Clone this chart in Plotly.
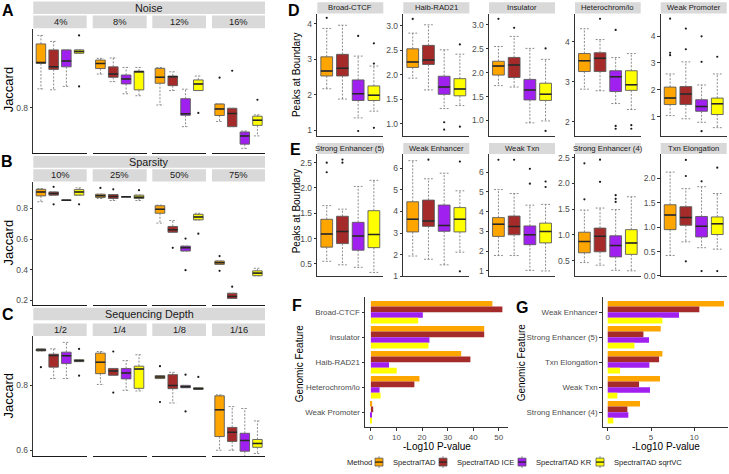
import plotly.graph_objects as go

W, H = 729, 474
FONT = "Liberation Sans, Arial, sans-serif"

METHODS = ["SpectralTAD", "SpectralTAD ICE", "SpectralTAD KR", "SpectralTAD sqrtVC"]
COLORS = ["#FFA500", "#A52A2A", "#A020F0", "#FFFF00"]

# ---- Panel A: Noise. per level, per method: [lower whisker, q1, median, q3, upper whisker]
noise_levels = ["4%", "8%", "12%", "16%"]
noise_box = [
    [[0.822, 0.852, 0.853, 0.875, 0.885], [0.821, 0.845, 0.848, 0.868, 0.878],
     [0.825, 0.848, 0.855, 0.868, 0.868], [0.864, 0.864, 0.866, 0.868, 0.868]],
    [[0.8395, 0.846, 0.852, 0.856, 0.858], [0.8306, 0.8357, 0.8395, 0.848, 0.8585],
     [0.8163, 0.8279, 0.8337, 0.8384, 0.8473], [0.814, 0.8209, 0.8422, 0.843, 0.8473]],
    [[0.8031, 0.8287, 0.8357, 0.8462, 0.8473], [0.8201, 0.8259, 0.8364, 0.8372, 0.8422],
     [0.7776, 0.791, 0.7927, 0.8105, 0.8217], [0.8201, 0.8201, 0.8279, 0.8326, 0.8372]],
    [[0.7837, 0.7907, 0.7985, 0.8043, 0.8043], [0.7776, 0.7776, 0.793, 0.7992, 0.7992],
     [0.752, 0.757, 0.7667, 0.7713, 0.7725], [0.7667, 0.7791, 0.7852, 0.7899, 0.7915]],
]
noise_out = [
    [[], [], [], [0.885, 0.825]],
    [[], [], [], []],
    [[], [], [], [0.7938]],
    [[0.8353], [0.8434], [], [0.8093]],
]

# ---- Panel B: Sparsity
sparsity_levels = ["10%", "25%", "50%", "75%"]
sparsity_box = [
    [[0.843, 0.881, 0.907, 0.924, 0.929], [0.886, 0.886, 0.896, 0.907, 0.907],
     [0.853, 0.853, 0.853, 0.853, 0.853], [0.886, 0.886, 0.907, 0.922, 0.933]],
    [[0.864, 0.871, 0.882, 0.892, 0.892], [0.851, 0.864, 0.877, 0.890, 0.890],
     [0.875, 0.875, 0.875, 0.875, 0.875], [0.851, 0.864, 0.873, 0.886, 0.886]],
    [[0.704, 0.768, 0.794, 0.817, 0.821], [0.644, 0.644, 0.661, 0.682, 0.721],
     [0.522, 0.522, 0.543, 0.554, 0.554], [0.725, 0.725, 0.744, 0.761, 0.768]],
    [[0.435, 0.435, 0.446, 0.457, 0.457], [0.213, 0.213, 0.226, 0.247, 0.247],
     None, [0.361, 0.361, 0.378, 0.393, 0.41]],
]
sparsity_out = [
    [[], [0.94, 0.826], [], [0.826]],
    [[0.933], [0.924], [], [0.918]],
    [[], [0.543], [0.603, 0.397], [0.635]],
    [[0.489, 0.393], [0.29], [], []],
]

# ---- Panel C: Sequencing depth
depth_levels = ["1/2", "1/4", "1/8", "1/16"]
depth_box = [
    [[0.905, 0.905, 0.908, 0.911, 0.911], [0.820, 0.855, 0.891, 0.895, 0.911],
     [0.820, 0.866, 0.890, 0.901, 0.931], [0.872, 0.872, 0.875, 0.878, 0.878]],
    [[0.802, 0.835, 0.870, 0.898, 0.903], [0.830, 0.830, 0.843, 0.851, 0.851],
     [0.784, 0.819, 0.837, 0.851, 0.875], [0.782, 0.790, 0.849, 0.858, 0.893]],
    [[0.820, 0.820, 0.825, 0.829, 0.829], [0.745, 0.789, 0.799, 0.832, 0.839],
     [0.792, 0.792, 0.795, 0.799, 0.799], [0.787, 0.787, 0.789, 0.792, 0.792]],
    [[0.600, 0.642, 0.724, 0.767, 0.770], [0.600, 0.627, 0.655, 0.670, 0.734],
     [0.580, 0.597, 0.630, 0.652, 0.728], [0.590, 0.609, 0.621, 0.633, 0.690]],
]
depth_out = [
    [[0.855], [], [], [0.911, 0.829]],
    [[], [0.903, 0.777], [], []],
    [[0.858, 0.748], [], [0.832, 0.719], [0.825]],
    [[], [], [], []],
]

# ---- Panel D: peaks at boundary
d_features = ["Broad-CTCF", "Haib-RAD21", "Insulator", "Heterochrom/lo", "Weak Promoter"]
d_box = [
    [[2.17, 2.53, 2.67, 3.07, 3.87], [1.88, 2.53, 2.75, 3.14, 3.96],
     [1.35, 1.84, 2.03, 2.42, 3.09], [1.54, 1.84, 1.99, 2.25, 2.81]],
    [[1.93, 2.15, 2.26, 2.53, 2.85], [1.69, 2.21, 2.30, 2.60, 3.02],
     [1.31, 1.60, 1.75, 1.97, 2.51], [1.37, 1.57, 1.71, 1.92, 2.42]],
    [[1.73, 1.95, 2.14, 2.24, 2.55], [1.70, 1.90, 2.16, 2.32, 2.76],
     [0.95, 1.43, 1.64, 1.86, 2.51], [0.99, 1.42, 1.55, 1.78, 2.28]],
    [[2.81, 3.25, 3.52, 3.70, 4.32], [2.77, 3.25, 3.58, 3.72, 4.05],
     [2.45, 2.75, 3.12, 3.27, 3.60], [2.30, 2.78, 2.92, 3.27, 3.70]],
    [[1.04, 1.45, 1.69, 2.10, 2.59], [0.92, 1.45, 1.84, 2.12, 3.04],
     [0.79, 1.20, 1.38, 1.63, 2.18], [0.59, 1.08, 1.48, 1.69, 2.59]],
]
d_out = [
    [[4.17], [], [3.66, 0.98], [3.45, 2.88, 1.07]],
    [[3.14], [], [1.03, 0.88], [2.62, 0.94]],
    [[3.13], [2.94], [], [2.51, 0.78]],
    [[], [4.57], [4.29, 1.89, 1.82], [1.91, 1.82]],
    [[4.65, 3.38, 3.29], [4.28, 3.51], [3.99, 3.04, 0.46], [3.23]],
]
d_yrange = [[0.84, 4.29], [0.75, 3.25], [0.675, 3.24], [1.64, 4.70], [0.28, 4.84]]
d_ticks = [[1, 2, 3, 4], [1.0, 1.5, 2.0, 2.5, 3.0], [1.0, 1.5, 2.0, 2.5, 3.0], [2, 3, 4], [1, 2, 3, 4]]
d_tickfmt = ["d", ".1f", ".1f", "d", "d"]

# ---- Panel E
e_features = ["Strong Enhancer (5)", "Weak Enhancer", "Weak Txn", "Strong Enhancer (4)", "Txn Elongation"]
e_box = [
    [[0.55, 0.83, 1.09, 1.38, 1.65], [0.48, 0.90, 1.14, 1.44, 1.58],
     [0.43, 0.77, 1.05, 1.32, 2.03], [0.33, 0.82, 1.08, 1.55, 2.15]],
    [[1.93, 3.05, 3.64, 4.45, 6.36], [1.78, 3.31, 3.56, 4.53, 5.52],
     [1.52, 3.08, 3.35, 4.30, 5.78], [2.11, 3.05, 3.64, 4.18, 4.96]],
    [[1.78, 2.75, 3.37, 3.70, 5.12], [1.78, 2.83, 3.25, 3.78, 4.92],
     [1.03, 2.33, 2.83, 3.28, 4.33], [1.00, 2.42, 3.00, 3.42, 4.37]],
    [[0.46, 0.65, 0.87, 1.05, 1.48], [0.41, 0.67, 0.97, 1.13, 1.52],
     [0.31, 0.57, 0.79, 0.98, 1.49], [0.30, 0.62, 0.84, 1.10, 1.74]],
    [[0.42, 0.95, 1.25, 1.46, 2.13], [0.70, 1.04, 1.20, 1.42, 1.79],
     [0.58, 0.80, 1.02, 1.22, 1.83], [0.55, 0.85, 1.07, 1.21, 1.69]],
]
e_out = [
    [[2.50, 2.31], [2.56, 2.50], [], []],
    [[], [6.41], [], [6.32, 1.22]],
    [[6.63], [6.63], [6.17, 5.42], [5.53, 5.25]],
    [[2.39, 1.69], [2.46, 2.03], [1.77, 1.70, 1.64], []],
    [[], [2.38, 2.05, 0.30], [1.94, 0.10], [2.22, 0.10]],
]
e_yrange = [[0.25, 2.67], [0.98, 6.67], [0.72, 6.92], [0.19, 2.57], [-0.01, 2.50]]
e_ticks = [[0.5, 1.0, 1.5, 2.0, 2.5], [1, 2, 3, 4, 5, 6], [1, 2, 3, 4, 5, 6],
           [0.5, 1.0, 1.5, 2.0, 2.5], [0.0, 0.5, 1.0, 1.5, 2.0]]
e_tickfmt = [".1f", "d", "d", ".1f", ".1f"]

# ---- Panels F and G: -log10 p-values
f_features = ["Broad-CTCF", "Insulator", "Haib-RAD21", "Heterochrom/lo", "Weak Promoter"]
f_values = [
    [47.5, 44.3, 35.3, 19.0, 0.5],
    [51.4, 44.3, 38.9, 17.0, 0.9],
    [20.3, 22.9, 7.1, 3.4, 0.1],
    [18.5, 22.5, 10.1, 3.8, 0.3],
]
g_features = ["Weak Enhancer", "Strong Enhancer (5)", "Txn Elongation", "Weak Txn", "Strong Enhancer (4)"]
g_values = [
    [13.43, 6.12, 6.31, 6.04, 3.73],
    [10.58, 4.12, 5.93, 3.62, 2.27],
    [8.23, 4.77, 4.81, 4.88, 2.38],
    [6.31, 3.08, 1.42, 1.11, 0.65],
]

# ================= figure construction =================
fig = go.Figure()
annotations = []
shapes = []
axcount = [0]

TICKCOL = "#4D4D4D"
AXCOL = "#333333"


def fx(p):
    return p / W


def fy(p):
    return 1 - p / H


def new_axes(xpx, ypx, xrange, yrange, left=True, bottom=True, yticks=None, ytickfmt=None,
             xticks=None, ycat=None, xline_w=1.0, xline_col=AXCOL):
    axcount[0] += 1
    i = axcount[0]
    s = "" if i == 1 else str(i)
    xa = dict(domain=[fx(xpx[0]), fx(xpx[1])], range=xrange, anchor="y" + s,
              showgrid=False, zeroline=False, fixedrange=True,
              showline=bottom, linecolor=xline_col, linewidth=xline_w)
    if xticks is not None:
        xa.update(tickmode="array", tickvals=xticks, showticklabels=True, ticks="outside",
                  ticklen=2.5, tickcolor=AXCOL, tickfont=dict(size=8, color=TICKCOL, family=FONT))
    else:
        xa.update(showticklabels=False, ticks="")
    ya = dict(domain=[fy(ypx[1]), fy(ypx[0])], range=yrange, anchor="x" + s,
              showgrid=False, zeroline=False, fixedrange=True,
              showline=left, linecolor=AXCOL, linewidth=1)
    if ycat is not None:
        ya.update(type="category", categoryorder="array", categoryarray=ycat,
                  ticks="outside", ticklen=2.5, tickcolor=AXCOL,
                  tickfont=dict(size=7.9, color=TICKCOL, family=FONT))
    elif yticks is not None and left:
        ya.update(tickmode="array", tickvals=yticks, ticks="outside", ticklen=2.5, tickcolor=AXCOL,
                  tickformat=ytickfmt, tickfont=dict(size=8.5, color=TICKCOL, family=FONT))
    else:
        ya.update(showticklabels=False, ticks="")
    fig.update_layout(**{"xaxis" + s: xa, "yaxis" + s: ya})
    return "x" + s, "y" + s


CAP = 0.28
BW = 0.75


def draw_boxes(xr, yr, stats, outs):
    wx, wy = [], []
    for m, st in enumerate(stats):
        if st is None:
            continue
        lo, q1, med, q3, hi = st
        x = m + 1
        wx += [x, x, None, x, x, None, x - CAP, x + CAP, None, x - CAP, x + CAP, None]
        wy += [q3, hi, None, q1, lo, None, hi, hi, None, lo, lo, None]
    fig.add_trace(go.Scatter(x=wx, y=wy, mode="lines", xaxis=xr, yaxis=yr,
                             line=dict(color="#6E6E6E", width=0.8, dash="2px,1.5px"),
                             showlegend=False, hoverinfo="skip"))
    mx, my = [], []
    for m, st in enumerate(stats):
        if st is None:
            continue
        lo, q1, med, q3, hi = st
        fig.add_trace(go.Box(x=[m + 1], q1=[q1], median=[med], q3=[q3],
                             lowerfence=[q1], upperfence=[q3], width=BW, whiskerwidth=0,
                             fillcolor=COLORS[m], line=dict(color="#5A5A5A", width=0.9),
                             boxpoints=False, name=METHODS[m], legendgroup=METHODS[m],
                             showlegend=False, xaxis=xr, yaxis=yr, hoverinfo="skip"))
        mx += [m + 1 - BW / 2, m + 1 + BW / 2, None]
        my += [med, med, None]
    fig.add_trace(go.Scatter(x=mx, y=my, mode="lines", xaxis=xr, yaxis=yr,
                             line=dict(color="#262626", width=1.5),
                             showlegend=False, hoverinfo="skip"))
    ox, oy = [], []
    for m, lst in enumerate(outs):
        for v in lst:
            ox.append(m + 1)
            oy.append(v)
    if ox:
        fig.add_trace(go.Scatter(x=ox, y=oy, mode="markers", xaxis=xr, yaxis=yr,
                                 marker=dict(color="#1A1A1A", size=2.2),
                                 showlegend=False, hoverinfo="skip"))


def strip(x0, x1, y0, y1, text, size):
    shapes.append(dict(type="rect", xref="paper", yref="paper", x0=fx(x0), x1=fx(x1),
                       y0=fy(y1), y1=fy(y0), fillcolor="#D9D9D9", line=dict(width=0),
                       layer="below"))
    annotations.append(dict(text=text, xref="paper", yref="paper", x=fx((x0 + x1) / 2),
                            y=fy((y0 + y1) / 2), xanchor="center", yanchor="middle",
                            showarrow=False, font=dict(size=size, color="#1A1A1A", family=FONT)))


def label(text, x, y, size=16, bold=True, angle=0, color="black", anchor="center"):
    annotations.append(dict(text=("<b>%s</b>" % text) if bold else text, xref="paper",
                            yref="paper", x=fx(x), y=fy(y), xanchor=anchor,
                            yanchor="middle", showarrow=False, textangle=angle,
                            font=dict(size=size, color=color, family=FONT)))


# ---- A, B, C
facet_x = [[33.3, 86.7], [92.7, 146.7], [152.3, 206], [212, 265]]
abc = [
    ("Noise", noise_levels, noise_box, noise_out, [28, 154], [0.7465, 0.893], [0.8],
     [0.5, 13.2], [14.7, 27.6], "A", 7.5, 10, 90),
    ("Sparsity", sparsity_levels, sparsity_box, sparsity_out, [183, 308], [0.1698, 0.9736],
     [0.2, 0.4, 0.6, 0.8], [157, 169], [170.3, 182.8], "B", 7, 163, 245),
    ("Sequencing Depth", depth_levels, depth_box, depth_out, [339.3, 461], [0.5818, 0.9506],
     [0.6, 0.8], [310.7, 323.3], [326.7, 339.3], "C", 7.5, 317.5, 400),
]
for title, levels, boxes, outs, ypx, yrng, ticks, s1, s2, plabel, lx, ly, jy in abc:
    for k in range(4):
        xr, yr = new_axes(facet_x[k], ypx, [0.4, 4.6], yrng, left=(k == 0), bottom=True,
                          yticks=ticks, ytickfmt=".1f", xline_w=1.4, xline_col="#1A1A1A")
        draw_boxes(xr, yr, boxes[k], outs[k])
        strip(facet_x[k][0], facet_x[k][1], s2[0], s2[1], levels[k], 9.3)
    strip(facet_x[0][0], facet_x[3][1], s1[0], s1[1], title, 10.8)
    label(plabel, lx, ly)
    label("Jaccard", 8.5, jy, size=13, bold=False, angle=-90)

# ---- D, E
de_x = [[317.3, 383.3], [403.3, 469.3], [489, 555], [575, 640.7], [660.7, 726.7]]
for feats, boxes, outs, yrngs, ticks, fmts, ypx, spx in [
        (d_features, d_box, d_out, d_yrange, d_ticks, d_tickfmt, [12.7, 136.7], [1.3, 12.7]),
        (e_features, e_box, e_out, e_yrange, e_ticks, e_tickfmt, [155, 279], [143.8, 155])]:
    for k in range(5):
        xr, yr = new_axes(de_x[k], ypx, [0.4, 4.6], yrngs[k], left=True, bottom=True,
                          yticks=ticks[k], ytickfmt=fmts[k])
        draw_boxes(xr, yr, boxes[k], outs[k])
        strip(de_x[k][0], de_x[k][1], spx[0], spx[1], feats[k], 7.7)
label("D", 294, 10)
label("E", 295, 150)
label("Peaks at Boundary", 296, 75, size=10, bold=False, angle=-90)
label("Peaks at Boundary", 296, 213, size=10, bold=False, angle=-90)

# ---- F, G
for feats, vals, xpx, xrng, xt in [
        (f_features, f_values, [365, 508], [-2.3, 53.6], [0, 10, 20, 30, 40, 50]),
        (g_features, g_values, [602.7, 728], [-0.58, 13.89], [0, 5, 10])]:
    xr, yr = new_axes(xpx, [300, 431.7], xrng, [4.6, -0.6], left=True, bottom=True,
                      xticks=xt, ycat=feats)
    for m in range(4):
        fig.add_trace(go.Bar(y=feats, x=vals[m], orientation="h", marker_color=COLORS[m],
                             marker_line_width=0, xaxis=xr, yaxis=yr, showlegend=False,
                             hoverinfo="skip", name=METHODS[m]))
label("F", 297, 308)
label("G", 522, 310)
label("Genomic Feature", 299, 367, size=10, bold=False, angle=-90)
label("Genomic Feature", 521, 366, size=10, bold=False, angle=-90)
label("-Log10 P-value", 437, 451.5, size=10, bold=False)
label("-Log10 P-value", 666, 451.5, size=10, bold=False)

# ---- legend (Method key) at the bottom
label("Method", 345, 467, size=7.6, bold=False, anchor="left", color="#1A1A1A")
key_x = [379, 443, 522, 600]
for m in range(4):
    kx = key_x[m]
    shapes.append(dict(type="line", xref="paper", yref="paper", x0=fx(kx), x1=fx(kx),
                       y0=fy(473), y1=fy(461), line=dict(color="#6E6E6E", width=0.8)))
    shapes.append(dict(type="rect", xref="paper", yref="paper", x0=fx(kx - 4), x1=fx(kx + 4),
                       y0=fy(471), y1=fy(463), fillcolor=COLORS[m],
                       line=dict(color="#5A5A5A", width=0.8)))
    shapes.append(dict(type="line", xref="paper", yref="paper", x0=fx(kx - 4), x1=fx(kx + 4),
                       y0=fy(467), y1=fy(467), line=dict(color="#262626", width=1.3)))
    label(METHODS[m], kx + 11.5, 467, size=7.6, bold=False, anchor="left", color="#1A1A1A")

fig.update_layout(
    width=W, height=H, margin=dict(l=0, r=0, t=0, b=0),
    paper_bgcolor="white", plot_bgcolor="white",
    font=dict(family=FONT, size=9, color="black"),
    barmode="group", bargap=0.1, bargroupgap=0, boxmode="overlay",
    annotations=annotations, shapes=shapes,
    showlegend=False,
)

fig.write_html("out.html", config={"displayModeBar": False},
               post_script="document.body.style.margin='0px';document.body.style.overflow='hidden';")
